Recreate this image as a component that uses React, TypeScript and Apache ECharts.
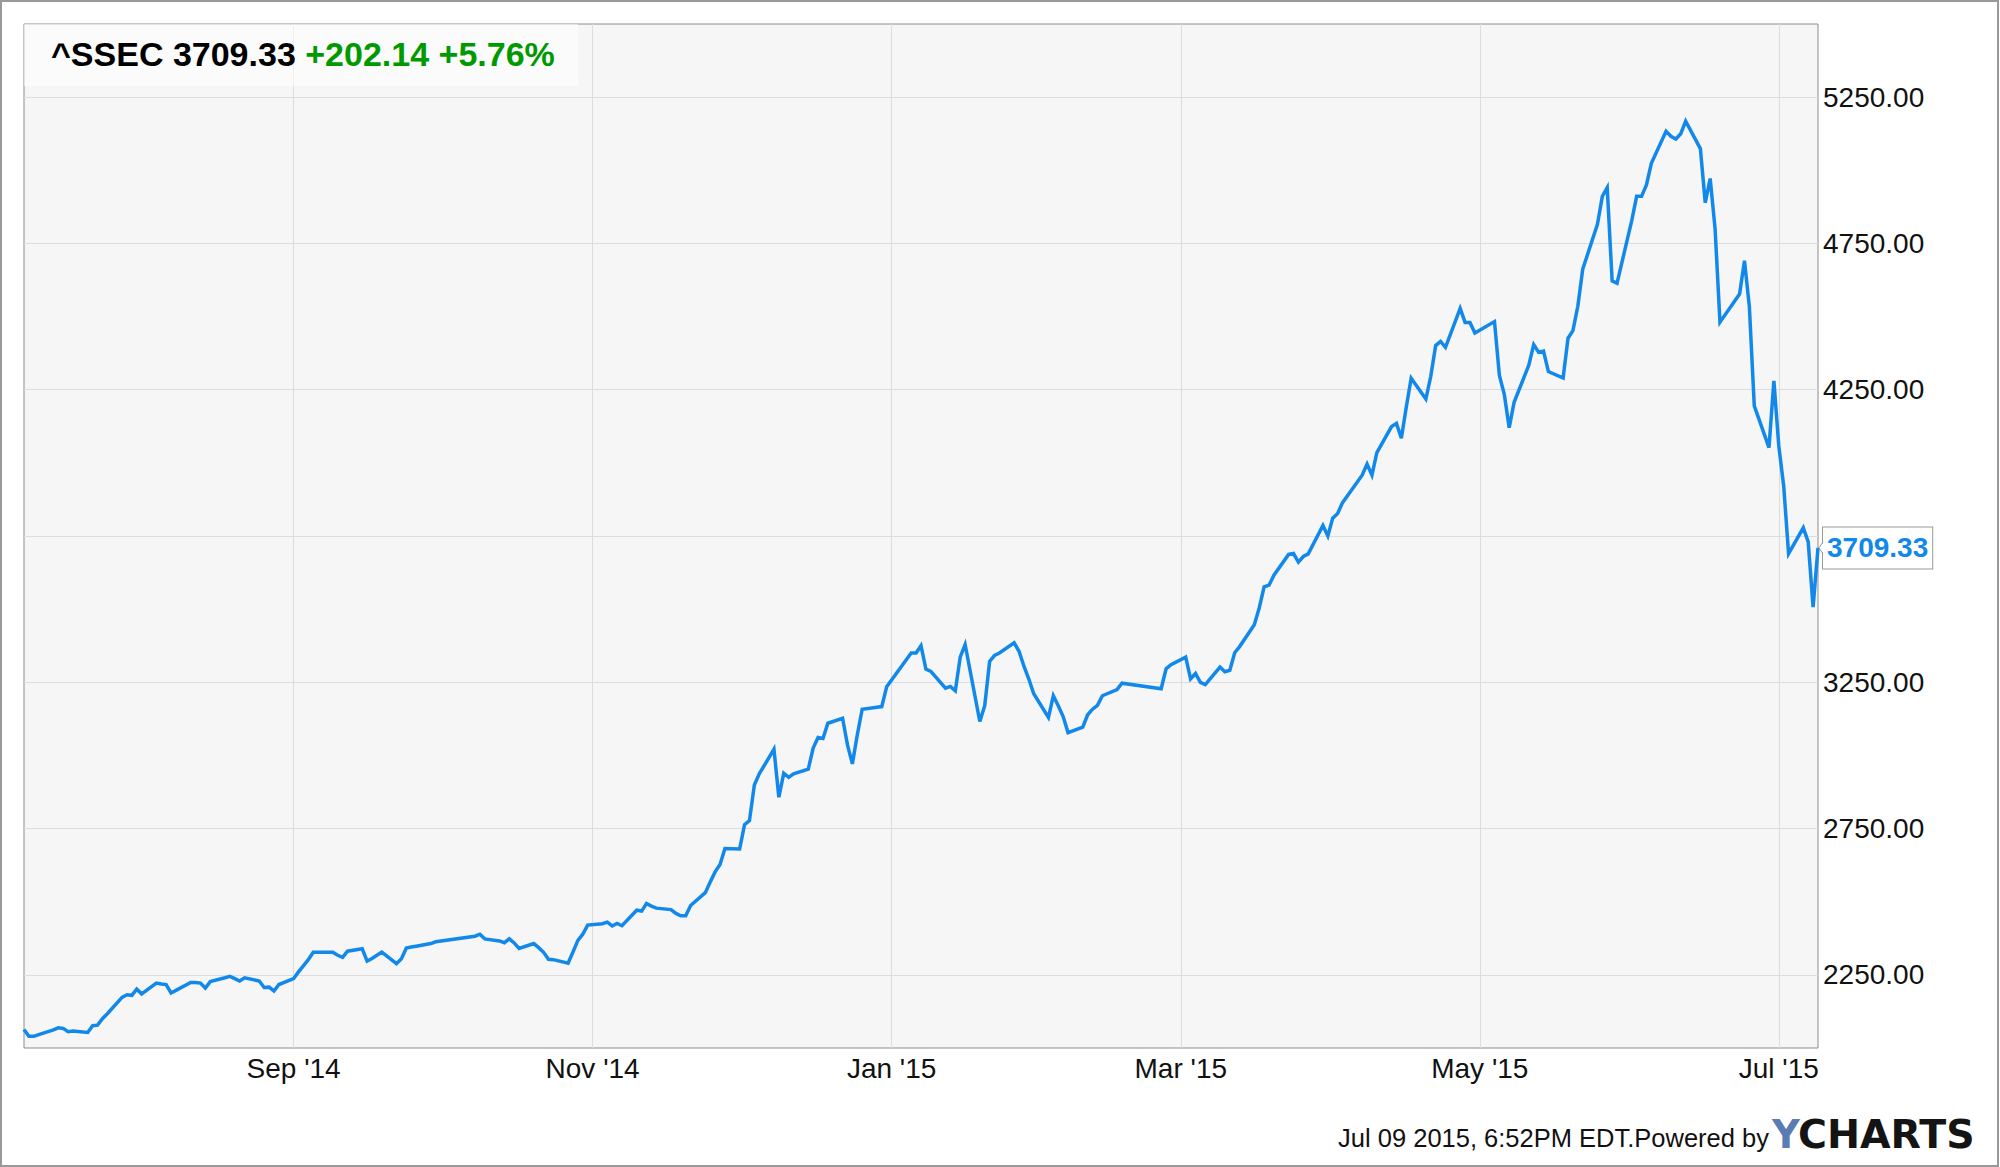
import React, { useEffect, useRef } from 'react';
import * as echarts from 'echarts';

// ---- Data ----
const tradingDates: string[] = [
  '2014-07-08','2014-07-09','2014-07-10','2014-07-11','2014-07-14','2014-07-15','2014-07-16','2014-07-17','2014-07-18',
  '2014-07-21','2014-07-22','2014-07-23','2014-07-24','2014-07-25','2014-07-28','2014-07-29','2014-07-30','2014-07-31',
  '2014-08-01','2014-08-04','2014-08-05','2014-08-06','2014-08-07','2014-08-08','2014-08-11','2014-08-12','2014-08-13',
  '2014-08-14','2014-08-15','2014-08-18','2014-08-19','2014-08-20','2014-08-21','2014-08-22','2014-08-25','2014-08-26',
  '2014-08-27','2014-08-28','2014-08-29',
  '2014-09-01','2014-09-02','2014-09-03','2014-09-04','2014-09-05','2014-09-09','2014-09-10','2014-09-11','2014-09-12',
  '2014-09-15','2014-09-16','2014-09-17','2014-09-18','2014-09-19','2014-09-22','2014-09-23','2014-09-24','2014-09-25',
  '2014-09-26','2014-09-29','2014-09-30',
  '2014-10-08','2014-10-09','2014-10-10','2014-10-13','2014-10-14','2014-10-15','2014-10-16','2014-10-17','2014-10-20',
  '2014-10-21','2014-10-22','2014-10-23','2014-10-24','2014-10-27','2014-10-28','2014-10-29','2014-10-30','2014-10-31',
  '2014-11-03','2014-11-04','2014-11-05','2014-11-06','2014-11-07','2014-11-10','2014-11-11','2014-11-12','2014-11-13',
  '2014-11-14','2014-11-17','2014-11-18','2014-11-19','2014-11-20','2014-11-21','2014-11-24','2014-11-25','2014-11-26',
  '2014-11-27','2014-11-28',
  '2014-12-01','2014-12-02','2014-12-03','2014-12-04','2014-12-05','2014-12-08','2014-12-09','2014-12-10','2014-12-11',
  '2014-12-12','2014-12-15','2014-12-16','2014-12-17','2014-12-18','2014-12-19','2014-12-22','2014-12-23','2014-12-24',
  '2014-12-25','2014-12-26','2014-12-29','2014-12-30','2014-12-31',
  '2015-01-05','2015-01-06','2015-01-07','2015-01-08','2015-01-09','2015-01-12','2015-01-13','2015-01-14','2015-01-15',
  '2015-01-16','2015-01-19','2015-01-20','2015-01-21','2015-01-22','2015-01-23','2015-01-26','2015-01-27','2015-01-28',
  '2015-01-29','2015-01-30',
  '2015-02-02','2015-02-03','2015-02-04','2015-02-05','2015-02-06','2015-02-09','2015-02-10','2015-02-11','2015-02-12',
  '2015-02-13','2015-02-16','2015-02-17','2015-02-25','2015-02-26','2015-02-27',
  '2015-03-02','2015-03-03','2015-03-04','2015-03-05','2015-03-06','2015-03-09','2015-03-10','2015-03-11','2015-03-12',
  '2015-03-13','2015-03-16','2015-03-17','2015-03-18','2015-03-19','2015-03-20','2015-03-23','2015-03-24','2015-03-25',
  '2015-03-26','2015-03-27','2015-03-30','2015-03-31',
  '2015-04-01','2015-04-02','2015-04-03','2015-04-07','2015-04-08','2015-04-09','2015-04-10','2015-04-13','2015-04-14',
  '2015-04-15','2015-04-16','2015-04-17','2015-04-20','2015-04-21','2015-04-22','2015-04-23','2015-04-24','2015-04-27',
  '2015-04-28','2015-04-29','2015-04-30',
  '2015-05-04','2015-05-05','2015-05-06','2015-05-07','2015-05-08','2015-05-11','2015-05-12','2015-05-13','2015-05-14',
  '2015-05-15','2015-05-18','2015-05-19','2015-05-20','2015-05-21','2015-05-22','2015-05-25','2015-05-26','2015-05-27',
  '2015-05-28','2015-05-29',
  '2015-06-01','2015-06-02','2015-06-03','2015-06-04','2015-06-05','2015-06-08','2015-06-09','2015-06-10','2015-06-11',
  '2015-06-12','2015-06-15','2015-06-16','2015-06-17','2015-06-18','2015-06-19','2015-06-23','2015-06-24','2015-06-25',
  '2015-06-26','2015-06-29','2015-06-30',
  '2015-07-01','2015-07-02','2015-07-03','2015-07-06','2015-07-07','2015-07-08','2015-07-09',
];

const closeValues: number[] = [
  2063, 2040, 2040, 2046, 2062, 2069, 2067, 2056, 2058,
  2053, 2076, 2078, 2100, 2117, 2173, 2182, 2180, 2201,
  2185, 2222, 2219, 2217, 2188, 2197, 2224, 2224, 2222,
  2205, 2227, 2240, 2245, 2237, 2229, 2240, 2229, 2207,
  2208, 2195, 2217,
  2237, 2260, 2281, 2302, 2327, 2327, 2317, 2310, 2331,
  2339, 2297, 2306, 2317, 2328, 2288, 2305, 2342, 2345,
  2348, 2357, 2363,
  2382, 2389, 2373, 2366, 2360, 2373, 2359, 2340, 2357,
  2343, 2327, 2303, 2302, 2290, 2328, 2368, 2389, 2420,
  2425, 2430, 2417, 2426, 2418, 2471, 2468, 2494, 2485,
  2478, 2473, 2460, 2452, 2452, 2487, 2531, 2567, 2602,
  2627, 2682,
  2680, 2763, 2777, 2899, 2937, 3021, 2857, 2939, 2925,
  2937, 2953, 3025, 3061, 3058, 3110, 3127, 3036, 2971,
  3070, 3158, 3165, 3167, 3235,
  3350, 3350, 3375, 3295, 3287, 3230, 3236, 3221, 3336,
  3379, 3116, 3170, 3321, 3342, 3350, 3385, 3356, 3305,
  3261, 3211,
  3130, 3204, 3170, 3133, 3078, 3097, 3139, 3158, 3171,
  3204, 3225, 3247, 3228, 3296, 3310,
  3336, 3262, 3280, 3250, 3242, 3302, 3286, 3291, 3351,
  3372, 3447, 3504, 3576, 3582, 3616, 3687, 3690, 3661,
  3680, 3689, 3786, 3750,
  3811, 3827, 3864, 3958, 3996, 3958, 4035, 4124, 4135,
  4084, 4190, 4289, 4218, 4296, 4401, 4415, 4395, 4528,
  4480, 4480, 4444,
  4483, 4299, 4234, 4120, 4207, 4334, 4404, 4378, 4382,
  4312, 4290, 4426, 4452, 4535, 4662, 4815, 4911, 4941,
  4622, 4614,
  4828, 4911, 4911, 4950, 5024, 5133, 5116, 5107, 5125,
  5168, 5074, 4889, 4972, 4801, 4481, 4577, 4691, 4533,
  4195, 4052, 4280,
  4058, 3921, 3690, 3778, 3730, 3507.19, 3709.33,
];

const tickerName = '^SSEC';
const rangeStart = '2014-07-08';
const rangeEnd = '2015-07-09';
const xTickDates: string[] = ['2014-09-01', '2014-11-01', '2015-01-01', '2015-03-01', '2015-05-01', '2015-07-01'];
const yTickValues: number[] = [2250, 2750, 3250, 3750, 4250, 4750, 5250];
const yMin = 2000;
const yMax = 5500;
const monthNames: string[] = ['Jan', 'Feb', 'Mar', 'Apr', 'May', 'Jun', 'Jul', 'Aug', 'Sep', 'Oct', 'Nov', 'Dec'];
const footerText = 'Jul 09 2015, 6:52PM EDT.Powered by';
const logoFirst = 'Y';
const logoRest = 'CHARTS';

// ---- Helpers ----
const toUTC = (s: string) => {
  const [y, m, d] = s.split('-').map(Number);
  return Date.UTC(y, m - 1, d);
};
const fmtMonth = (t: number) => {
  const dt = new Date(t);
  return `${monthNames[dt.getUTCMonth()]} '${String(dt.getUTCFullYear()).slice(2)}`;
};

const FONT = "'Liberation Sans', Arial, Helvetica, sans-serif";
const LINE_COLOR = '#1188ea';
const GRID_COLOR = '#dcdcdc';

export default function App() {
  const ref = useRef<HTMLDivElement>(null);

  useEffect(() => {
    if (!ref.current) return;
    const chart = echarts.init(ref.current, undefined, { renderer: 'svg' });

    const seriesData = tradingDates.map((d, i) => [toUTC(d), closeValues[i]]);
    const n = closeValues.length;
    const last = closeValues[n - 1];
    const prev = closeValues[n - 2];
    const chg = last - prev;
    const pct = (chg / prev) * 100;
    const sign = chg >= 0 ? '+' : '';
    const xTicks = xTickDates.map(toUTC);

    const baseGraphic: any[] = [
      {
        id: 'titleBox',
        type: 'rect',
        z: 1,
        shape: { x: 24, y: 24, width: 554, height: 62 },
        style: { fill: 'rgba(255,255,255,0.55)' },
      },
      {
        id: 'outerBorder',
        type: 'rect',
        z: 100,
        silent: true,
        shape: { x: 1, y: 1, width: 1997, height: 1165 },
        style: { fill: 'none', stroke: '#999', lineWidth: 2 },
      },
      {
        id: 'footer',
        type: 'text',
        z: 100,
        x: 1769,
        y: 1138,
        style: {
          text: footerText,
          fill: '#111',
          fontSize: 25.5,
          fontFamily: FONT,
          textAlign: 'right',
          textVerticalAlign: 'middle',
          verticalAlign: 'middle',
        },
      },
      {
        id: 'logoY',
        type: 'text',
        z: 100,
        x: 1772,
        y: 1134,
        style: {
          text: logoFirst,
          fill: '#5b7bb3',
          fontSize: 38.5,
          fontWeight: 'bold',
          fontFamily: "'DejaVu Sans', sans-serif",
          textAlign: 'left',
          textVerticalAlign: 'middle',
          verticalAlign: 'middle',
        },
      },
      {
        id: 'logoRest',
        type: 'text',
        z: 100,
        x: 1798,
        y: 1134,
        style: {
          text: logoRest,
          fill: '#141414',
          fontSize: 39.5,
          fontWeight: 'bold',
          fontFamily: "'DejaVu Sans', sans-serif",
          textAlign: 'left',
          textVerticalAlign: 'middle',
          verticalAlign: 'middle',
        },
      },
    ];

    chart.setOption({
      animation: false,
      backgroundColor: '#ffffff',
      title: {
        text: `{a|${tickerName} ${last.toFixed(2)}} {b|${sign}${chg.toFixed(2)} ${sign}${pct.toFixed(2)}%}`,
        left: 51,
        top: 34,
        padding: 0,
        z: 5,
        textStyle: {
          fontSize: 34,
          fontWeight: 'bold',
          fontFamily: FONT,
          color: '#000',
          lineHeight: 40,
          rich: {
            a: { color: '#000', fontSize: 34, fontWeight: 'bold', fontFamily: FONT, lineHeight: 40 },
            b: { color: '#009a00', fontSize: 34, fontWeight: 'bold', fontFamily: FONT, lineHeight: 40 },
          },
        },
      },
      grid: {
        left: 24,
        right: 182,
        top: 24,
        bottom: 119,
        show: true,
        backgroundColor: '#f6f6f6',
        borderColor: '#8c8c8c',
        borderWidth: 1,
        containLabel: false,
        outerBoundsMode: 'none',
      },
      xAxis: {
        type: 'value',
        min: toUTC(rangeStart),
        max: toUTC(rangeEnd),
        axisLine: { show: false },
        axisTick: { show: false, customValues: xTicks },
        axisLabel: {
          customValues: xTicks,
          formatter: (v: number) => fmtMonth(v),
          color: '#111',
          fontSize: 28,
          fontFamily: FONT,
          margin: 6,
        },
        splitLine: { show: true, lineStyle: { color: GRID_COLOR, width: 1 } },
      },
      yAxis: {
        type: 'value',
        position: 'right',
        min: yMin,
        max: yMax,
        axisLine: { show: false },
        axisTick: { show: false, customValues: yTickValues },
        axisLabel: {
          customValues: yTickValues,
          formatter: (v: number) => v.toFixed(2),
          color: '#111',
          fontSize: 28,
          fontFamily: FONT,
          margin: 5,
        },
        splitLine: { show: true, lineStyle: { color: GRID_COLOR, width: 1 } },
      },
      series: [
        {
          type: 'line',
          data: seriesData,
          symbol: 'none',
          z: 3,
          lineStyle: { color: LINE_COLOR, width: 3.5, join: 'miter' },
          itemStyle: { color: LINE_COLOR },
          endLabel: {
            show: true,
            distance: 5,
            formatter: (p: any) => Number(p.value[1]).toFixed(2),
            color: LINE_COLOR,
            fontSize: 28,
            fontWeight: 'bold',
            fontFamily: FONT,
            backgroundColor: '#ffffff',
            borderColor: '#999',
            borderWidth: 1,
            padding: [4, 4, 2, 4],
            lineHeight: 35,
          },
        },
      ],
      graphic: baseGraphic,
    });

    // small pointer on the last-value label, positioned via the chart's own scales
    const pt = chart.convertToPixel({ xAxisIndex: 0, yAxisIndex: 0 }, [toUTC(tradingDates[n - 1]), last]) as number[];
    if (pt && isFinite(pt[0]) && isFinite(pt[1])) {
      const bx = pt[0] + 5;
      chart.setOption({
        graphic: [
          ...baseGraphic,
          {
            id: 'ptrFill',
            type: 'polygon',
            z: 120,
            shape: { points: [[bx + 1, pt[1] - 6], [pt[0] + 1, pt[1]], [bx + 1, pt[1] + 6]] },
            style: { fill: '#ffffff', stroke: 'none' },
          },
          {
            id: 'ptrLine',
            type: 'polyline',
            z: 121,
            shape: { points: [[bx, pt[1] - 6], [pt[0] + 1, pt[1]], [bx, pt[1] + 6]] },
            style: { stroke: '#999', lineWidth: 1, fill: 'none' },
          },
        ],
      });
    }

    return () => {
      chart.dispose();
    };
  }, []);

  return (
    <div
      ref={ref}
      style={{ position: 'absolute', left: 0, top: 0, width: 2000, height: 1167 }}
    />
  );
}
